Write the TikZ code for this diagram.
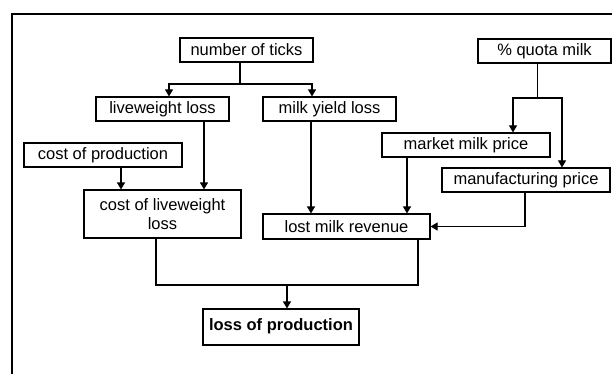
\documentclass[tikz,border=0pt]{standalone}
\usepackage{fontspec}
\setmainfont{Liberation Sans}
\usetikzlibrary{arrows.meta}
\begin{document}
\begin{tikzpicture}[x=1pt,y=-1pt,
  box/.style={draw, line width=1.2pt, inner sep=0pt, align=center,
    font=\fontsize{16.5}{19}\selectfont},
  conn/.style={line width=1.2pt},
  arr/.style={line width=1.2pt, -{Triangle[length=7pt,width=8pt]}},
  frame/.style={line width=1.3pt}]
\useasboundingbox (0,0) rectangle (612,374);
\draw[frame] (12,374) -- (12,14) -- (612,14);

\node[box, minimum width=133, minimum height=24] (ticks) at (246.5,50) {number of ticks};
\node[box, minimum width=133, minimum height=24] (lwl) at (162.5,109) {liveweight loss};
\node[box, minimum width=133, minimum height=24] (myl) at (329.5,109) {milk yield loss};
\node[box, minimum width=158, minimum height=24] (cop) at (103,155) {cost of production};
\node[box, minimum width=157, minimum height=48] (clw) at (162.5,214) {cost of liveweight\\loss};
\node[box, minimum width=167, minimum height=25] (lmr) at (346.5,226.5) {lost milk revenue};
\node[box, minimum width=156, minimum height=36] (lop) at (281,327) {\raisebox{4pt}{\bfseries loss of production}};
\node[box, minimum width=133, minimum height=24] (quota) at (544.5,51) {\% quota milk};
\node[box, minimum width=168, minimum height=24] (mmp) at (466,145) {market milk price};
\node[box, minimum width=168, minimum height=24] (mfp) at (526,180) {manufacturing price};

% number of ticks
\coordinate (j1) at (240,84);
\draw[conn] ([xshift=-6.5pt]ticks.south) -- (j1);
\draw[arr] (j1) -| ([xshift=6.5pt]lwl.north);
\draw[arr] (j1) -| ([xshift=-17.5pt]myl.north);

% to cost of liveweight loss
\draw[arr] ([xshift=41.5pt]lwl.south) -- ([xshift=41.5pt]lwl.south |- clw.north);
\draw[arr] ([xshift=18pt]cop.south) -- ([xshift=18pt]cop.south |- clw.north);

% milk yield loss to lost milk revenue
\draw[arr] ([xshift=-18.5pt]myl.south) -- ([xshift=-18.5pt]myl.south |- lmr.north);

% quota milk
\coordinate (j2) at (537.5,98);
\draw[conn] ([xshift=-7pt]quota.south) -- (j2);
\draw[arr] (j2) -| ([xshift=47pt]mmp.north);
\draw[arr] (j2) -| ([xshift=36pt]mfp.north);

% market milk price, manufacturing price to lost milk revenue
\draw[arr] ([xshift=-59pt]mmp.south) -- ([xshift=-59pt]mmp.south |- lmr.north);
\draw[arr] ([xshift=-1pt]mfp.south) |- (lmr.east);

% to loss of production
\coordinate (j3) at (287,285);
\draw[conn] ([xshift=-6.5pt]clw.south) |- ([xshift=71.5pt]lmr.south |- j3) -- ([xshift=71.5pt]lmr.south);
\draw[arr] (j3) -- (j3 |- lop.north);
\end{tikzpicture}
\end{document}
